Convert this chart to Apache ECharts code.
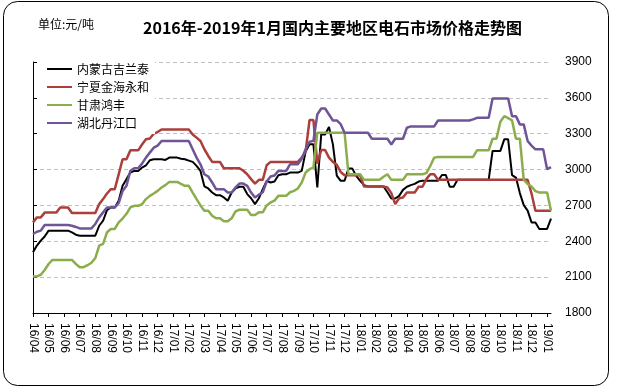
<!DOCTYPE html>
<html><head><meta charset="utf-8">
<script src="https://cdn.jsdelivr.net/npm/echarts@6/dist/echarts.min.js"></script>
<style>html,body{margin:0;padding:0;background:#fff}#c{width:617px;height:389px}</style>
</head><body><div id="c"></div>
<script>
// Tick labels (one per month)
const months = ['16/04','16/05','16/06','16/07','16/08','16/09','16/10','16/11','16/12',
  '17/01','17/02','17/03','17/04','17/05','17/06','17/07','17/08','17/09','17/10','17/11','17/12',
  '18/01','18/02','18/03','18/04','18/05','18/06','18/07','18/08','18/09','18/10','18/11','18/12','19/01'];
const seriesNames = ['内蒙古吉兰泰','宁夏金海永和','甘肃鸿丰','湖北丹江口'];
// Weekly prices (4 samples per month), yuan/ton
const neimeng = [
  2308,2364,2405,2440,2489,2489,2489,2489,2489,2489,
  2475,2455,2447,2447,2447,2447,2447,2530,2572,2660,
  2683,2683,2740,2864,2920,2975,2989,2989,3017,3036,
  3078,3086,3086,3086,3081,3100,3100,3100,3090,3086,
  3075,3064,3031,2989,2860,2842,2808,2786,2786,2767,
  2739,2808,2842,2856,2856,2795,2760,2711,2760,2836,
  2906,2892,2900,2953,2961,2961,2975,2975,2975,2989,
  3150,3211,3211,2850,3294,3294,3356,3211,2950,2906,
  2906,3008,3008,2947,2906,2870,2858,2858,2858,2858,
  2858,2810,2758,2758,2780,2830,2856,2870,2880,2900,
  2906,2906,2906,2906,2906,2955,2955,2856,2856,2914,
  2914,2914,2914,2914,2914,2914,2914,2914,3156,3156,
  3156,3253,3253,2953,2933,2803,2703,2656,2558,2558,
  2503,2503,2503,2590];
const ningxia = [
  2558,2600,2600,2640,2640,2640,2640,2683,2683,2683,
  2636,2636,2636,2636,2636,2636,2636,2711,2753,2800,
  2836,2836,2960,3086,3086,3161,3161,3161,3210,3253,
  3260,3300,3314,3336,3336,3336,3336,3336,3336,3336,
  3336,3294,3267,3239,3170,3114,3064,3064,3064,3011,
  3011,3011,3011,3011,2990,2961,2920,2883,2914,2914,
  3036,3064,3064,3064,3064,3064,3064,3064,3064,3100,
  3150,3414,3414,3050,3164,3164,3100,3064,3040,2980,
  2953,2953,2953,2953,2953,2858,2858,2858,2858,2858,
  2858,2850,2803,2711,2760,2767,2808,2808,2808,2856,
  2856,2920,2961,2961,2914,2914,2914,2914,2914,2914,
  2914,2914,2914,2914,2914,2914,2914,2914,2914,2914,
  2914,2914,2914,2914,2914,2914,2914,2914,2800,2656,
  2656,2656,2656,2656];
const gansu = [
  2106,2106,2120,2160,2210,2244,2244,2244,2244,2244,
  2244,2211,2183,2183,2200,2220,2260,2364,2378,2475,
  2503,2503,2558,2590,2630,2683,2697,2697,2710,2753,
  2780,2800,2822,2850,2870,2897,2897,2897,2880,2864,
  2864,2808,2753,2700,2656,2656,2614,2592,2592,2567,
  2567,2592,2650,2664,2664,2664,2620,2620,2642,2642,
  2700,2725,2740,2780,2780,2780,2810,2822,2842,2892,
  2975,3003,3017,3308,3308,3308,3308,3308,3308,3308,
  3308,2961,2961,2961,2961,2914,2914,2914,2914,2914,
  2940,2961,2914,2914,2914,2914,2961,2961,2961,2961,
  2961,2970,3030,3100,3106,3106,3106,3106,3106,3106,
  3106,3106,3106,3106,3161,3161,3161,3161,3258,3258,
  3400,3447,3430,3411,3258,3258,2914,2880,2858,2820,
  2808,2808,2808,2656];
const hubei = [
  2461,2480,2489,2536,2536,2536,2536,2536,2536,2536,
  2530,2520,2508,2508,2508,2508,2545,2600,2642,2683,
  2683,2683,2720,2820,2864,2990,3011,3011,3050,3100,
  3142,3183,3200,3239,3239,3239,3239,3239,3239,3239,
  3239,3170,3100,3044,2961,2942,2892,2836,2836,2836,
  2808,2808,2850,2883,2883,2864,2808,2767,2790,2810,
  2900,2942,2950,2989,2989,2989,3044,3044,3044,3090,
  3170,3233,3240,3461,3511,3511,3461,3411,3411,3380,
  3308,3308,3308,3308,3308,3308,3308,3258,3258,3258,
  3258,3258,3210,3258,3258,3258,3350,3361,3361,3361,
  3361,3361,3361,3361,3411,3411,3411,3411,3411,3411,
  3411,3411,3411,3420,3433,3433,3433,3433,3594,3594,
  3594,3594,3594,3447,3447,3378,3378,3239,3200,3169,
  3169,3169,3003,3020];

const categories = [];
months.forEach(m => { for (let w = 1; w <= 4; w++) categories.push(m + '#' + w); });
const cats = categories.slice(0, neimeng.length);

const chart = echarts.init(document.getElementById('c'));
const cjk = '"Noto Sans CJK SC", sans-serif';
const lat = '"Liberation Sans", sans-serif';
function line(name, data, color, width) {
  return { name, type: 'line', data, symbol: 'none', showSymbol: false, sampling: 'none',
    lineStyle: { color, width }, itemStyle: { color }, animation: false, z: 3 };
}
chart.setOption({
  animation: false,
  backgroundColor: '#fff',
  title: [
    { text: '2016年-2019年1月国内主要地区电石市场价格走势图', left: 138, top: 15,
      textStyle: { fontFamily: cjk, fontSize: 16, fontWeight: 'bold', color: '#000' } },
    { text: '单位:元/吨', left: 33, top: 13,
      textStyle: { fontFamily: cjk, fontSize: 12, fontWeight: 'normal', color: '#000' } }
  ],
  graphic: [{ type: 'rect', shape: { x: 3.5, y: 1.5, width: 605, height: 384, r: 14 },
    style: { fill: 'none', stroke: '#000', lineWidth: 1 }, silent: true }],
  legend: {
    left: 40, top: 58, orient: 'vertical', padding: [5, 6, 5, 6],
    backgroundColor: '#fff', itemWidth: 25, itemHeight: 14, itemGap: 6,
    itemStyle: { opacity: 0 },
    textStyle: { fontFamily: cjk, fontSize: 12, color: '#000' },
    data: seriesNames
  },
  grid: { left: 33, right: 66, top: 62, bottom: 76, containLabel: false },
  xAxis: {
    type: 'category', data: cats, boundaryGap: false,
    axisLine: { lineStyle: { color: '#000', width: 1 } },
    axisTick: { interval: 3, length: 4, lineStyle: { color: '#000' } },
    axisLabel: { interval: 3, rotate: -90, margin: 10, color: '#000', fontFamily: lat, fontSize: 12,
      formatter: v => v.split('#')[0] },
    splitLine: { show: false }
  },
  yAxis: [
    { type: 'value', min: 1800, max: 3900, interval: 300, position: 'left',
      axisLine: { show: true, lineStyle: { color: '#000' } },
      axisTick: { show: true, inside: true, length: 4, lineStyle: { color: '#000' } },
      axisLabel: { show: false },
      splitLine: { show: true, lineStyle: { color: '#c0c0c0', type: [4, 3], width: 1 } } },
    { type: 'value', min: 1800, max: 3900, interval: 300, position: 'right',
      axisLine: { show: false }, axisTick: { show: false },
      axisLabel: { margin: 14, color: '#000', fontFamily: lat, fontSize: 12, formatter: v => String(v) },
      splitLine: { show: false } }
  ],
  series: [
    line(seriesNames[0], neimeng, '#000000', 2),
    line(seriesNames[1], ningxia, '#AA3F3B', 2.5),
    line(seriesNames[2], gansu, '#8BAD4B', 2.5),
    line(seriesNames[3], hubei, '#6F5597', 2.5)
  ]
});
</script></body></html>
